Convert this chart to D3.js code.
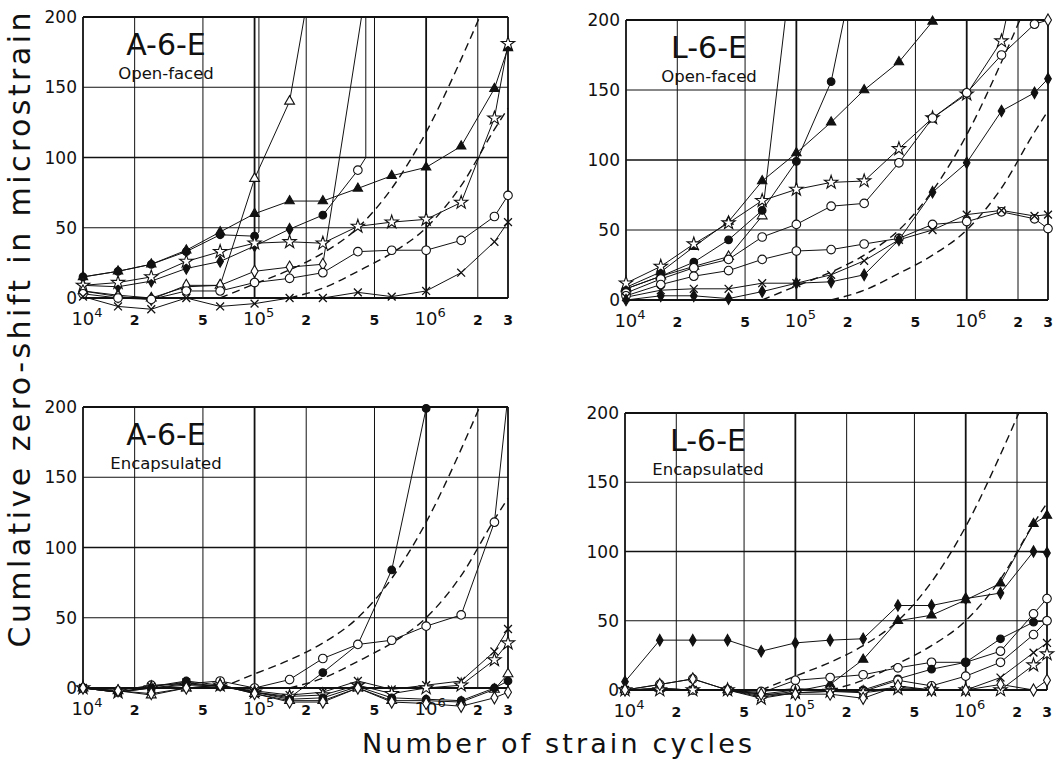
<!DOCTYPE html>
<html>
<head>
<meta charset="utf-8">
<script src="https://cdn.jsdelivr.net/npm/d3@7"></script>
<style>
  body { margin: 0; background: #fff; }
  svg { display: block; }
  text { font-family: "DejaVu Sans", sans-serif; fill: #111; }
</style>
</head>
<body>
<svg id="chart" width="1063" height="762"></svg>
<script>
// ---- data ----
// x = strain cycles, y = cumulative zero-shift (microstrain)
// 3rd element overrides the marker for that point ('' = no marker)

const yTicks = [0, 50, 100, 150, 200];
const xTickVals = [1e4, 2e4, 5e4, 1e5, 2e5, 5e5, 1e6, 2e6, 3e6];
const xTickBase = ['10', '2', '5', '10', '2', '5', '10', '2', '3'];
const xTickSup  = ['4', '', '', '5', '', '', '6', '', ''];
const gridX = [2e4, 5e4, 1e5, 2e5, 5e5, 1e6, 2e6];
const majorX = [1e5, 1e6];

// the two dashed reference curves (same in every panel)
const dashSteep   = [[6.3e4,0],[1e5,10],[1.6e5,20],[2.5e5,32],[4e5,50],[6.3e5,78],[1e6,118],[1.6e6,170],[2.05e6,200]];
const dashShallow = [[1.6e5,0],[2.5e5,7],[4e5,19],[6.3e5,32],[1e6,50],[1.6e6,80],[2.5e6,120],[3e6,135]];

const aOpenSeries = [
  { m: 'ot', p: [[1e4,5],[1.6e4,2],[2.5e4,0],[4e4,8],[6.3e4,9],[1e5,85],[1.6e5,140],[1.95e5,200,'']] },
  { m: 'fc', p: [[1e4,15],[1.6e4,19],[2.5e4,24],[4e4,33],[6.3e4,45],[1e5,44],[1.06e5,47,''],[1.06e5,200,'']] },
  { m: 'ft', p: [[1e4,15],[1.6e4,19],[2.5e4,24],[4e4,34],[6.3e4,47],[1e5,60],[1.6e5,69],[2.5e5,69],[4e5,78],[6.3e5,87],[1e6,93],[1.6e6,108],[2.5e6,149],[3e6,178]] },
  { m: 'fd', p: [[1e4,9],[1.6e4,8],[2.5e4,12],[4e4,21],[6.3e4,26],[1e5,37],[1.6e5,49],[2.5e5,59,'fc'],[4e5,91,'oc'],[4.45e5,100,''],[4.45e5,200,'']] },
  { m: 'st', p: [[1e4,9],[1.6e4,11],[2.5e4,15],[4e4,26],[6.3e4,33],[1e5,39],[1.6e5,40],[2.5e5,39],[4e5,51],[6.3e5,54],[1e6,56],[1.6e6,68],[2.5e6,128],[3e6,181]] },
  { m: 'od', p: [[1e4,5],[1.6e4,1],[2.5e4,-1],[4e4,9],[6.3e4,9],[1e5,19],[1.6e5,22],[2.5e5,24],[4.2e5,200,'']] },
  { m: 'oc', p: [[1e4,3],[1.6e4,0],[2.5e4,-1],[4e4,5],[6.3e4,5],[1e5,11],[1.6e5,14],[2.5e5,18],[4e5,33],[6.3e5,34],[1e6,34],[1.6e6,41],[2.5e6,58],[3e6,73]] },
  { m: 'x',  p: [[1e4,1],[1.6e4,-6],[2.5e4,-8],[4e4,0],[6.3e4,-6],[1e5,-4],[1.6e5,0],[2.5e5,0],[4e5,4],[6.3e5,1],[1e6,5],[1.6e6,18],[2.5e6,40],[3e6,54]] }
];

const lOpenSeries = [
  { m: 'ot', p: [[1e4,8],[1.6e4,17],[2.5e4,24],[4e4,31],[6.3e4,60],[8.6e4,200,'']] },
  { m: 'fc', p: [[1e4,8],[1.6e4,17],[2.5e4,27],[4e4,43],[6.3e4,64],[1e5,99],[1.6e5,156],[1.9e5,200,'']] },
  { m: 'ft', p: [[1e4,9],[1.6e4,20],[2.5e4,38],[4e4,56],[6.3e4,85],[1e5,105],[1.6e5,127],[2.5e5,150],[4e5,170],[6.3e5,199]] },
  { m: 'st', p: [[1e4,12],[1.6e4,24],[2.5e4,40],[4e4,55],[6.3e4,71],[1e5,79],[1.6e5,84],[2.5e5,85],[4e5,108],[6.3e5,130],[1e6,147],[1.6e6,185],[1.7e6,200,'']] },
  { m: 'oc', p: [[1e4,5],[1.6e4,15],[2.5e4,23],[4e4,29],[6.3e4,45],[1e5,54],[1.6e5,67],[2.5e5,69],[4e5,98],[6.3e5,130],[1e6,148],[1.6e6,175],[2.5e6,197],[3e6,200,'od']] },
  { m: 'oc', p: [[1e4,3],[1.6e4,11],[2.5e4,17],[4e4,21],[6.3e4,29],[1e5,35],[1.6e5,36],[2.5e5,40],[4e5,44],[6.3e5,54],[1e6,56],[1.6e6,63],[2.5e6,58],[3e6,51]] },
  { m: 'x',  p: [[1e4,2],[1.6e4,7],[2.5e4,8],[4e4,8],[6.3e4,12],[1e5,12],[1.6e5,18],[2.5e5,28],[4e5,43],[6.3e5,50],[1e6,61],[1.6e6,64],[2.5e6,60],[3e6,61]] },
  { m: 'fd', p: [[1e4,0],[1.6e4,3],[2.5e4,3],[4e4,1],[6.3e4,6],[1e5,12],[1.6e5,13],[2.5e5,18],[4e5,43],[6.3e5,77],[1e6,98],[1.6e6,135],[2.5e6,148],[3e6,158]] }
];

const aEncSeries = [
  { m: 'fc', p: [[1e4,0],[1.6e4,-3],[2.5e4,1],[4e4,5],[6.3e4,2],[1e5,-3],[1.6e5,-7],[2.5e5,11],[4e5,31,''],[6.3e5,84],[1e6,199]] },
  { m: 'oc', p: [[1e4,0],[1.6e4,-2],[2.5e4,2],[4e4,3],[6.3e4,5],[1e5,0],[1.6e5,6],[2.5e5,21],[4e5,31],[6.3e5,34],[1e6,44],[1.6e6,52],[2.5e6,118],[2.95e6,200,'']] },
  { m: 'x',  p: [[1e4,0],[1.6e4,-3],[2.5e4,1],[4e4,4],[6.3e4,1],[1e5,-2],[1.6e5,-5],[2.5e5,-3],[4e5,5],[6.3e5,-1],[1e6,2],[1.6e6,5],[2.5e6,26],[3e6,42]] },
  { m: 'st', p: [[1e4,0],[1.6e4,-3],[2.5e4,0],[4e4,2],[6.3e4,2],[1e5,-3],[1.6e5,-6],[2.5e5,-5],[4e5,2],[6.3e5,-4],[1e6,0],[1.6e6,2],[2.5e6,20],[3e6,32]] },
  { m: 'ot', p: [[1e4,0],[1.6e4,-2],[2.5e4,-5],[4e4,0],[6.3e4,2],[1e5,-4],[1.6e5,-9],[2.5e5,-9],[4e5,0],[6.3e5,-9],[1e6,-9],[1.6e6,-10],[2.5e6,-1],[3e6,10]] },
  { m: 'fc', p: [[1e4,0],[1.6e4,-3],[2.5e4,0],[4e4,3],[6.3e4,1],[1e5,-3],[1.6e5,-8],[2.5e5,-7],[4e5,1],[6.3e5,-7],[1e6,-8],[1.6e6,-9],[2.5e6,0],[3e6,5]] },
  { m: 'od', p: [[1e4,0],[1.6e4,-2],[2.5e4,-4],[4e4,0],[6.3e4,2],[1e5,-4],[1.6e5,-10],[2.5e5,-10],[4e5,0],[6.3e5,-10],[1e6,-11],[1.6e6,-13],[2.5e6,-7],[3e6,-3]] }
];

const lEncSeries = [
  { m: 'fd', p: [[1e4,6],[1.6e4,36],[2.5e4,36],[4e4,36],[6.3e4,28],[1e5,34],[1.6e5,36],[2.5e5,37],[4e5,61],[6.3e5,61],[1e6,66],[1.6e6,70],[2.5e6,100],[3e6,99]] },
  { m: 'ft', p: [[1e4,0],[1.6e4,1],[2.5e4,0],[4e4,0],[6.3e4,-4],[1e5,-1],[1.6e5,4],[2.5e5,22],[4e5,50],[6.3e5,54],[1e6,65],[1.6e6,77],[2.5e6,120],[3e6,126]] },
  { m: 'oc', p: [[1e4,0],[1.6e4,4],[2.5e4,8],[4e4,0],[6.3e4,-2],[1e5,7],[1.6e5,9],[2.5e5,11],[4e5,16],[6.3e5,20],[1e6,20],[1.6e6,28],[2.5e6,55],[3e6,66]] },
  { m: 'fc', p: [[1e4,0],[1.6e4,1],[2.5e4,0],[4e4,0],[6.3e4,-3],[1e5,0],[1.6e5,0],[2.5e5,0],[4e5,8],[6.3e5,15],[1e6,20],[1.6e6,37],[2.5e6,49],[3e6,50]] },
  { m: 'oc', p: [[1e4,0],[1.6e4,1],[2.5e4,0],[4e4,0],[6.3e4,-1],[1e5,1],[1.6e5,0],[2.5e5,-1],[4e5,7],[6.3e5,3],[1e6,10],[1.6e6,20],[2.5e6,40],[3e6,50]] },
  { m: 'x',  p: [[1e4,0],[1.6e4,1],[2.5e4,0],[4e4,0],[6.3e4,-5],[1e5,-2],[1.6e5,-1],[2.5e5,-1],[4e5,2],[6.3e5,0],[1e6,0],[1.6e6,9],[2.5e6,27],[3e6,34]] },
  { m: 'st', p: [[1e4,0],[1.6e4,0],[2.5e4,0],[4e4,0],[6.3e4,-6],[1e5,-2],[1.6e5,-1],[2.5e5,-2],[4e5,1],[6.3e5,0],[1e6,0],[1.6e6,0],[2.5e6,18],[3e6,26]] },
  { m: 'od', p: [[1e4,0],[1.6e4,4],[2.5e4,8],[4e4,0],[6.3e4,-3],[1e5,-3],[1.6e5,-3],[2.5e5,-6],[4e5,3],[6.3e5,0],[1e6,0],[1.6e6,4],[2.5e6,0],[3e6,7]] }
];

// ---- layout ----
const panels = [
  { title: 'A-6-E', sub: 'Open-faced',   series: aOpenSeries, x0: 83,  x1: 508,  y0: 298, y1: 17  },
  { title: 'L-6-E', sub: 'Open-faced',   series: lOpenSeries, x0: 626, x1: 1048, y0: 300, y1: 20  },
  { title: 'A-6-E', sub: 'Encapsulated', series: aEncSeries,  x0: 83,  x1: 508,  y0: 688, y1: 407 },
  { title: 'L-6-E', sub: 'Encapsulated', series: lEncSeries,  x0: 625, x1: 1047, y0: 690, y1: 413 }
];

// marker type -> [symbol, size, filled]
const markers = {
  oc: [d3.symbolCircle, 58, false],
  fc: [d3.symbolCircle, 46, true],
  ot: [d3.symbolTriangle, 42, false],
  ft: [d3.symbolTriangle, 38, true],
  od: [d3.symbolDiamond, 42, false],
  fd: [d3.symbolDiamond, 38, true],
  st: [d3.symbolStar, 55, false],
  x:  [d3.symbolTimes, 42, false]
};

const svg = d3.select('#chart');
const ink = '#111';

function drawPanel(p) {
  const x = d3.scaleLog().domain([1e4, 3e6]).range([p.x0, p.x1]);
  const y = d3.scaleLinear().domain([0, 200]).range([p.y0, p.y1]);
  const g = svg.append('g');

  // grid
  g.selectAll('line.gx')
    .data(gridX)
    .join('line')
      .attr('x1', d => x(d)).attr('x2', d => x(d))
      .attr('y1', y(0)).attr('y2', y(200))
      .attr('stroke', ink)
      .attr('stroke-width', d => majorX.includes(d) ? 1.8 : 1);

  g.selectAll('line.gy')
    .data([50, 100, 150])
    .join('line')
      .attr('x1', p.x0).attr('x2', p.x1)
      .attr('y1', d => y(d)).attr('y2', d => y(d))
      .attr('stroke', ink)
      .attr('stroke-width', d => d === 100 ? 1.6 : 1);

  // frame: left, right, top and the zero line
  const frame = [
    [p.x0, y(0), p.x0, y(200)],
    [p.x1, y(0), p.x1, y(200)],
    [p.x0, y(200), p.x1, y(200)],
    [p.x0, y(0), p.x1, y(0)]
  ];
  g.selectAll('line.frame')
    .data(frame)
    .join('line')
      .attr('x1', d => d[0]).attr('y1', d => d[1])
      .attr('x2', d => d[2]).attr('y2', d => d[3])
      .attr('stroke', ink)
      .attr('stroke-width', 1.8);

  // y tick labels
  g.selectAll('text.yt')
    .data(yTicks)
    .join('text')
      .attr('x', p.x0 - 6)
      .attr('y', d => y(d))
      .attr('dy', '0.36em')
      .attr('text-anchor', 'end')
      .style('font-size', '17px')
      .text(d => d);

  // x tick labels
  const xt = g.selectAll('text.xt')
    .data(xTickVals)
    .join('text')
      .attr('x', d => x(d))
      .attr('y', p.y0 + 27)
      .attr('text-anchor', 'middle');
  xt.append('tspan')
    .style('font-size', (d, i) => xTickSup[i] ? '18px' : '14px')
    .style('font-weight', (d, i) => xTickSup[i] ? 'normal' : 'bold')
    .text((d, i) => xTickBase[i]);
  xt.filter((d, i) => xTickSup[i])
    .append('tspan')
      .attr('dy', -8)
      .style('font-size', '13px')
      .text(d => xTickSup[xTickVals.indexOf(d)]);
  // shift decade labels so that "10" sits centred on its line
  xt.filter((d, i) => xTickSup[i]).attr('dx', 4);

  // title block
  const cx = p.x0 + 83;
  g.append('text')
    .attr('x', cx).attr('y', p.y1 + 38)
    .attr('text-anchor', 'middle')
    .style('font-size', '30px')
    .text(p.title);
  g.append('text')
    .attr('x', cx).attr('y', p.y1 + 62)
    .attr('text-anchor', 'middle')
    .style('font-size', '16.5px')
    .text(p.sub);

  const line = d3.line().x(d => x(d[0])).y(d => y(d[1]));

  // dashed reference curves
  g.selectAll('path.dash')
    .data([dashSteep, dashShallow])
    .join('path')
      .attr('d', d3.line().x(d => x(d[0])).y(d => y(d[1])).curve(d3.curveMonotoneX))
      .attr('fill', 'none')
      .attr('stroke', ink)
      .attr('stroke-width', 1.4)
      .attr('stroke-dasharray', '8,5');

  // data lines
  g.selectAll('path.ser')
    .data(p.series)
    .join('path')
      .attr('d', d => line(d.p))
      .attr('fill', 'none')
      .attr('stroke', ink)
      .attr('stroke-width', 1);

  // markers
  const pts = p.series.flatMap(s => s.p.map(q => ({
    x: q[0], y: q[1], m: q.length > 2 ? q[2] : s.m
  }))).filter(d => d.m);

  g.selectAll('path.mk')
    .data(pts)
    .join('path')
      .attr('transform', d => `translate(${x(d.x)},${y(d.y)})`)
      .attr('d', d => d3.symbol(markers[d.m][0], markers[d.m][1])())
      .attr('fill', d => markers[d.m][2] ? ink : (d.m === 'x' ? 'none' : '#fff'))
      .attr('stroke', ink)
      .attr('stroke-width', d => d.m === 'x' ? 1.3 : 1.1);
}

panels.forEach(drawPanel);

// axis titles
svg.append('text')
  .attr('transform', 'translate(30,330) rotate(-90)')
  .attr('text-anchor', 'middle')
  .attr('textLength', 635)
  .attr('lengthAdjust', 'spacing')
  .style('font-size', '30px')
  .text('Cumlative zero-shift in microstrain');

svg.append('text')
  .attr('x', 362).attr('y', 753)
  .attr('textLength', 390)
  .attr('lengthAdjust', 'spacing')
  .style('font-size', '27px')
  .text('Number of strain cycles');
</script>
</body>
</html>
